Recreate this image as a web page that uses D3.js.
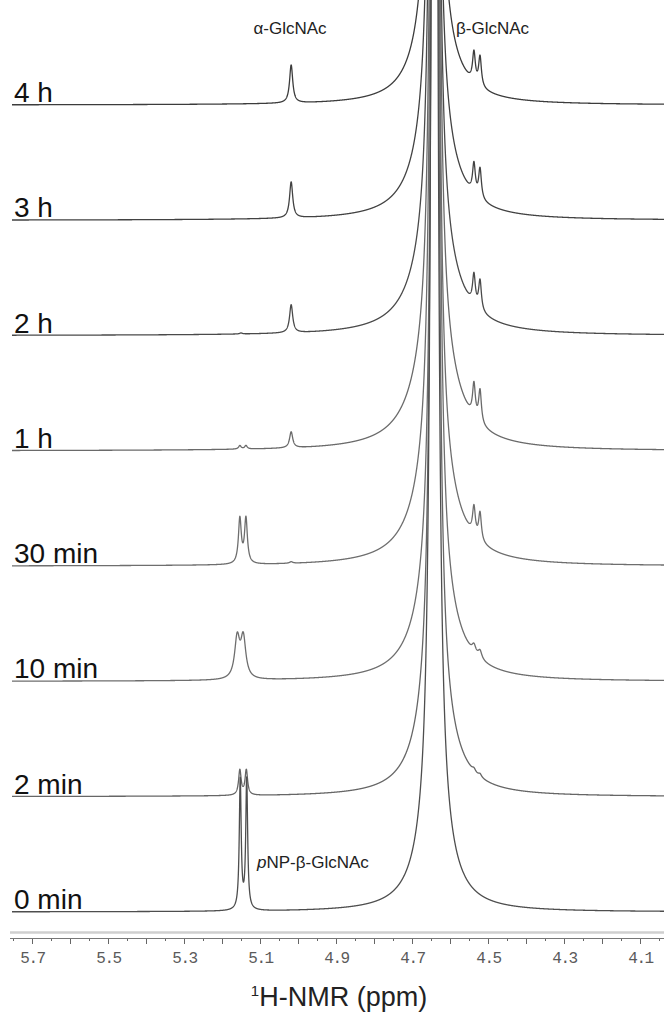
<!DOCTYPE html>
<html>
<head>
<meta charset="utf-8">
<script src="https://cdn.jsdelivr.net/npm/d3@7"></script>
<style>
  body { margin: 0; background: #fff; }
  svg { display: block; }
</style>
</head>
<body>
<div id="app"></div>
<script>
// spectra stacked from top to bottom
var traceLabels = ["4 h", "3 h", "2 h", "1 h", "30 min", "10 min", "2 min", "0 min"]

// peaks: [ppm, height, half width (ppm)]
// the water line (~4.64) is a tall narrow line sitting on a broad skirt
var peaks4h   = [[4.643, 3000, 0.0056], [4.643, 80, 0.05], [5.018, 38, 0.005], [4.537, 30, 0.0044], [4.521, 30, 0.0044]]
var peaks3h   = [[4.642, 3000, 0.0056], [4.642, 85, 0.055], [5.018, 36, 0.005], [4.537, 30, 0.0044], [4.521, 30, 0.0044]]
var peaks2h   = [[4.641, 3000, 0.0056], [4.641, 90, 0.06], [5.018, 28, 0.005], [4.537, 30, 0.0044], [4.521, 30, 0.0044], [5.150, 1, 0.004]]
var peaks1h   = [[4.640, 3000, 0.0056], [4.640, 100, 0.06], [5.018, 16, 0.005], [4.537, 33, 0.0044], [4.521, 33, 0.0044], [5.153, 3.5, 0.004], [5.137, 3.5, 0.004]]
var peaks30m  = [[4.640, 3000, 0.0056], [4.640, 95, 0.058], [5.018, 1.5, 0.005], [4.537, 28, 0.0044], [4.521, 28, 0.0044], [5.153, 45, 0.0045], [5.137, 45, 0.0045]]
var peaks10m  = [[4.639, 3000, 0.0056], [4.639, 90, 0.055], [4.537, 8, 0.006], [4.521, 8, 0.006], [5.160, 40, 0.008], [5.144, 40, 0.008]]
var peaks2m   = [[4.640, 3000, 0.0056], [4.640, 90, 0.05], [4.537, 3, 0.005], [4.521, 3, 0.005], [5.153, 25, 0.004], [5.136, 25, 0.004]]
var peaks0m   = [[4.641, 3000, 0.0058], [4.641, 85, 0.045], [5.152, 130, 0.003], [5.135, 130, 0.003]]

var allPeaks = [peaks4h, peaks3h, peaks2h, peaks1h, peaks30m, peaks10m, peaks2m, peaks0m]
var traceColours = ["#3c3c3c", "#424242", "#4a4a4a", "#6a6a6a", "#6e6e6e", "#6e6e6e", "#666666", "#4e4e4e"]

var tickLabels = [5.7, 5.5, 5.3, 5.1, 4.9, 4.7, 4.5, 4.3, 4.1]
var majorTicks = d3.range(5.8, 4.0, -0.1).map(d => +d.toFixed(2))
var minorTicks = d3.range(5.75, 4.0, -0.1).map(d => +d.toFixed(2))

var width = 664, height = 1013

var svg = d3.select("#app").append("svg")
  .attr("width", width).attr("height", height)

var x = d3.scaleLinear().domain([5.7, 4.1]).range([32, 640])
var rows = d3.scalePoint().domain(traceLabels).range([105, 912])
var y = d3.scaleLinear().domain([0, 100]).range([0, -100])

svg.append("clipPath").attr("id", "plotclip")
  .append("rect").attr("x", 12).attr("y", 0).attr("width", width - 12).attr("height", 926)

var grid = d3.range(5.756, 4.02, -0.0003)

function lorentz(ppm, peaks) {
  var s = 0
  peaks.forEach(p => {
    var d = (ppm - p[0]) / p[2]
    s += p[1] / (1 + d * d)
  })
  return s
}

var spectra = svg.append("g").attr("clip-path", "url(#plotclip)")

traceLabels.forEach((lab, i) => {
  var base = rows(lab)
  var pts = grid.map(p => [p, lorentz(p, allPeaks[i])])
  var line = d3.line()
    .x(d => x(d[0]))
    .y(d => base + Math.max(y(d[1]), -base - 20))
  spectra.append("path").datum(pts)
    .attr("d", line)
    .attr("fill", "none")
    .attr("stroke", traceColours[i])
    .attr("stroke-width", 1.3)
    .attr("stroke-linejoin", "round")

  svg.append("text").text(lab)
    .attr("x", 14).attr("y", base - 3)
    .attr("font-family", "Liberation Sans, Arial, sans-serif")
    .attr("font-size", 28)
    .attr("fill", "#111")
})

// peak annotations
svg.append("text").text("α-GlcNAc")
  .attr("x", 290).attr("y", 34).attr("text-anchor", "middle")
  .attr("font-family", "Liberation Sans, Arial, sans-serif").attr("font-size", 17).attr("fill", "#222")
svg.append("text").text("β-GlcNAc")
  .attr("x", 456).attr("y", 34)
  .attr("font-family", "Liberation Sans, Arial, sans-serif").attr("font-size", 17).attr("fill", "#222")
var pnp = svg.append("text")
  .attr("x", 257).attr("y", 868)
  .attr("font-family", "Liberation Sans, Arial, sans-serif").attr("font-size", 17).attr("fill", "#222")
pnp.append("tspan").attr("font-style", "italic").text("p")
pnp.append("tspan").text("NP-β-GlcNAc")

// axis: double rule with ticks
svg.append("line").attr("x1", 10).attr("x2", width).attr("y1", 932.5).attr("y2", 932.5)
  .attr("stroke", "#cfcfcf").attr("stroke-width", 2.5)

var axisG = svg.append("g").attr("transform", "translate(0,938)")
axisG.call(d3.axisBottom(x).tickValues(minorTicks).tickSize(3).tickFormat(""))
axisG.append("g").call(d3.axisBottom(x).tickValues(majorTicks).tickSize(6).tickFormat(""))
axisG.append("g").call(d3.axisBottom(x).tickValues(tickLabels).tickSize(0).tickPadding(14).tickFormat(d3.format(".1f")))
axisG.selectAll(".domain").attr("d", "M10,0.5H" + width).attr("stroke", "#777")
axisG.selectAll(".tick line").attr("stroke", "#666")
axisG.selectAll(".tick text")
  .attr("font-family", "Liberation Mono, monospace")
  .attr("font-size", 16).attr("letter-spacing", -1.5)
  .attr("fill", "#5a5a5a")

var xl = svg.append("text")
  .attr("x", 339).attr("y", 1006).attr("text-anchor", "middle")
  .attr("font-family", "Liberation Sans, Arial, sans-serif").attr("font-size", 27).attr("fill", "#222")
xl.append("tspan").attr("font-size", 15).attr("dy", -10).text("1")
xl.append("tspan").attr("dy", 10).text("H-NMR (ppm)")
</script>
</body>
</html>
